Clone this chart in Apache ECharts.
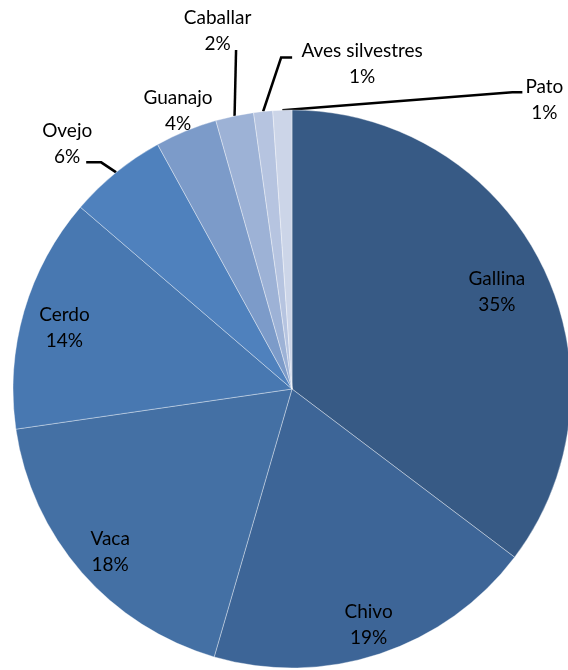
<!DOCTYPE html>
<html>
<head>
<meta charset="utf-8">
<script src="https://cdn.jsdelivr.net/npm/echarts@6/dist/echarts.min.js"></script>
<style>
  html, body { margin: 0; padding: 0; background: #fff; }
  #chart { width: 568px; height: 670px; }
</style>
</head>
<body>
<div id="chart"></div>
<script>
const categories = ['Gallina', 'Chivo', 'Vaca', 'Cerdo', 'Ovejo', 'Guanajo', 'Caballar', 'Aves silvestres', 'Pato']
const values = [35.3, 19.2, 18.2, 13.6, 5.7, 3.6, 2.2, 1.1, 1.1]
const colors = ['#375A85', '#3D6597', '#4470A4', '#4878B1', '#4F81BD', '#7C9BC9', '#9DB2D6', '#B6C4E0', '#CCD5E8']

const CENTER = [292, 389]
const RADIUS = 279

// inside labels: distance from centre (px)
const insideLabelR = { 'Gallina': 224, 'Chivo': 238, 'Vaca': 236, 'Cerdo': 232 }
// outside labels: offsets from the slice's outer midpoint
// (line = bend points of the leader line, same reference)
const outsideLabels = {
    'Ovejo': { at: [-49, -28], line: [[-15, -10], [-30, -10]] },
    'Guanajo': { at: [-8, -20], line: [] },
    'Caballar': { at: [-17, -85], line: [[1.5, -66]] },
    'Aves silvestres': { at: [99, -48], line: [[18, -54], [29, -54]] },
    'Pato': { at: [262, -10], line: [[230, -18], [240, -18]] },
}
const TEXT_DY = 5 // Lato sits a bit high when centred

const chart = echarts.init(document.getElementById('chart'))

const data = categories.map((name, i) => {
    const outside = !!outsideLabels[name]
    return {
        name,
        value: values[i],
        itemStyle: { color: colors[i] },
        label: { position: outside ? 'outside' : 'inside' },
        labelLine: { show: outside },
    }
})

chart.setOption({
    animation: false,
    series: [{
        type: 'pie',
        center: CENTER,
        radius: RADIUS,
        startAngle: 90,
        clockwise: true,
        percentPrecision: 0,
        avoidLabelOverlap: false,
        itemStyle: { borderColor: 'rgba(255,255,255,0.45)', borderWidth: 0.8 },
        label: {
            formatter: '{b}\n{d}%',
            color: '#000',
            fontFamily: 'Lato',
            fontSize: 19,
            lineHeight: 26,
            align: 'center',
            textBorderWidth: 0,
        },
        labelLine: {
            length: 10,
            length2: 10,
            smooth: false,
            lineStyle: { color: '#000', width: 2.5 },
        },
        labelLayout: function (params) {
            const name = categories[params.dataIndex]
            const o = outsideLabels[name]
            if (o && params.labelLinePoints) {
                const a = params.labelLinePoints[0]
                const pts = [a].concat(o.line.map(d => [a[0] + d[0], a[1] + d[1]]))
                return {
                    x: a[0] + o.at[0],
                    y: a[1] + o.at[1],
                    align: 'center',
                    verticalAlign: 'middle',
                    labelLinePoints: pts,
                }
            }
            // inside labels: push them out from r/2 towards the rim
            const r = params.labelRect
            const lx = r.x + r.width / 2
            const ly = r.y + r.height / 2
            const k = (insideLabelR[name] || RADIUS / 2) / (RADIUS / 2)
            return {
                x: CENTER[0] + (lx - CENTER[0]) * k,
                y: CENTER[1] + (ly - CENTER[1]) * k + TEXT_DY,
                align: 'center',
                verticalAlign: 'middle',
            }
        },
        emphasis: { disabled: true },
        data: data,
    }],
})
</script>
</body>
</html>
